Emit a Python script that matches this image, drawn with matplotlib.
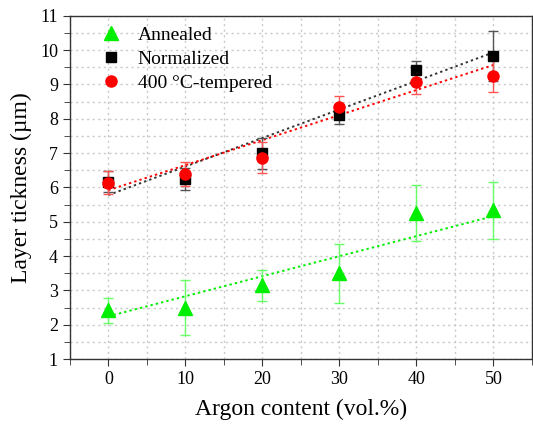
import numpy as np
import matplotlib.pyplot as plt

plt.rcParams['font.family'] = ['Liberation Serif', 'DejaVu Serif']

# Argon content (vol.%)
argon = np.array([0, 10, 20, 30, 40, 50])

# Layer thickness (um) with error
annealed = np.array([2.42, 2.5, 3.15, 3.5, 5.25, 5.33])
annealed_err = np.array([0.37, 0.8, 0.45, 0.86, 0.82, 0.84])

normalized = np.array([6.17, 6.25, 7.0, 8.1, 9.41, 9.84])
normalized_err = np.array([0.3, 0.32, 0.45, 0.25, 0.27, 0.73])

tempered = np.array([6.14, 6.38, 6.86, 8.33, 9.06, 9.24])
tempered_err = np.array([0.33, 0.35, 0.45, 0.32, 0.33, 0.47])

fig = plt.figure(figsize=(5.33, 4.26), dpi=100)
ax = fig.add_axes([0.131, 0.157, 0.867, 0.806])

# grid on major and minor ticks
ax.set_xlim(-5, 55)
ax.set_ylim(1, 11)
ax.set_xticks(np.arange(0, 51, 10))
ax.set_xticks(np.arange(-5, 56, 5), minor=True)
ax.set_yticks(np.arange(1, 12, 1))
ax.set_yticks(np.arange(1, 11.1, 0.5), minor=True)
ax.grid(True, which='both', color='#c8c8c8', linestyle=(0, (1.5, 2.5)), linewidth=1.0)
ax.set_axisbelow(True)

series = [
    (annealed, annealed_err, '^', '#00ee00', '#66ff66', 'Annealed', 10),
    (normalized, normalized_err, 's', 'black', '#555555', 'Normalized', 7),
    (tempered, tempered_err, 'o', '#ff0000', '#ff5555', '400 °C-tempered', 8),
]

xfit = np.linspace(0, 50, 50)
for y, e, m, c, ec, lab, ms in series:
    # weighted linear fit
    p = np.polyfit(argon, y, 1, w=1 / e)
    fitc = '#333333' if c == 'black' else c
    ax.plot(xfit, np.polyval(p, xfit), linestyle=(0, (1.2, 1.6)), color=fitc, linewidth=1.4, zorder=2)
    ax.errorbar(argon, y, yerr=e, fmt='none', ecolor=ec, elinewidth=1.0, capsize=3.5, capthick=1.0, zorder=3)
    ax.plot(argon, y, linestyle='none', marker=m, color=c, markersize=ms, label=lab, zorder=4)

ax.legend(loc='upper left', frameon=False, fontsize=14, handletextpad=0.8,
          bbox_to_anchor=(0.025, 1.02), labelspacing=0.33, handlelength=1.2)

for s in ax.spines.values():
    s.set_color('#333333')
    s.set_linewidth(1.0)
ax.tick_params(which='both', direction='out', top=False, right=False, labelsize=13, color='#333333')
ax.tick_params(which='major', length=5)
ax.tick_params(which='minor', length=4)

ax.set_xlabel('Argon content (vol.%)', fontsize=17, labelpad=8)
ax.set_ylabel('Layer tickness (µm)', fontsize=17, labelpad=6)

fig.savefig('out.png', dpi=100)
